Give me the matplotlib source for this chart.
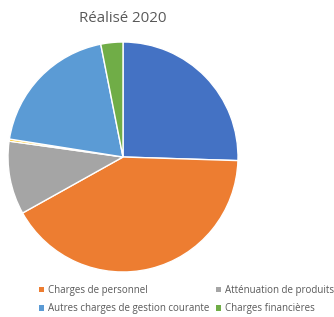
import matplotlib
matplotlib.use("Agg")
import matplotlib.pyplot as plt
from matplotlib.patches import Patch

categories = ["Charges à caractère général", "Charges de personnel", "Atténuation de produits",
              "Autres", "Autres charges de gestion courante", "Charges financières"]
values = [25.5, 41.4, 10.3, 0.3, 19.4, 3.1]
colors = ["#4472C4", "#ED7D31", "#A5A5A5", "#FFC000", "#5B9BD5", "#70AD47"]
legend_labels = ["Charges de personnel", "Atténuation de produits",
                 "Autres charges de gestion courante", "Charges financières"]
legend_colors = ["#ED7D31", "#A5A5A5", "#5B9BD5", "#70AD47"]
title = "Réalisé 2020"

plt.rcParams['font.family'] = ['Open Sans', 'DejaVu Sans']

W, H = 334, 317
fig = plt.figure(figsize=(W / 100, H / 100), dpi=100)
ax = fig.add_axes([8 / W, 1 - 272 / H, 230 / W, 230 / H])
ax.pie(values, colors=colors, startangle=90, counterclock=False,
       wedgeprops=dict(edgecolor="white", linewidth=1.0))
ax.set_xlim(-1.0, 1.0)
ax.set_ylim(-1.0, 1.0)
ax.set_aspect('equal')

fig.text(123 / W, 1 - 19 / H, title, ha="center", va="center", fontsize=10.8, color="#595959")

handles = [Patch(facecolor=c, edgecolor="none") for c in legend_colors]
order = [0, 2, 1, 3]
leg = fig.legend([handles[i] for i in order], [legend_labels[i] for i in order],
                 ncol=2, loc="upper left", bbox_to_anchor=(39 / W, 1 - 285 / H),
                 frameon=False, fontsize=7, handlelength=0.5, handleheight=0.5,
                 handletextpad=0.4, columnspacing=0.7, labelspacing=0.75,
                 borderpad=0, borderaxespad=0)
for t in leg.get_texts():
    t.set_color("#595959")

fig.savefig("out.png", dpi=100)
